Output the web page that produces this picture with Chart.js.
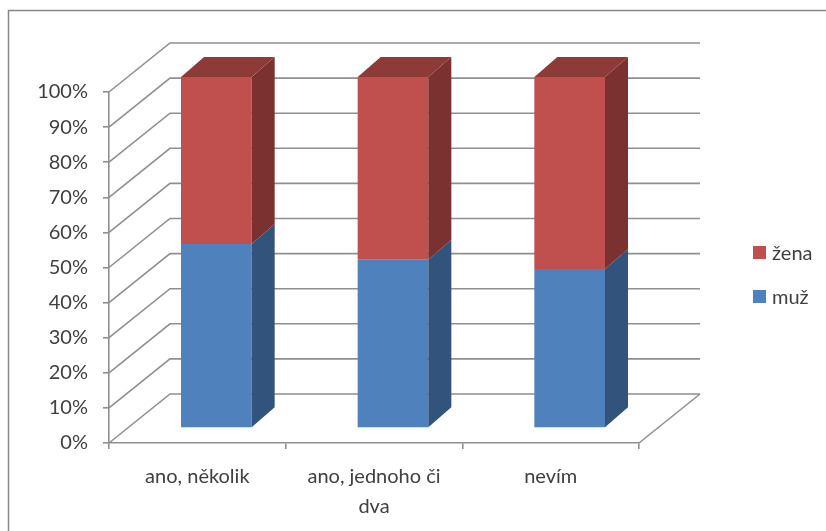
<!DOCTYPE html>
<html>
<head>
<meta charset="utf-8">
<script src="https://cdn.jsdelivr.net/npm/chart.js@4.4.1/dist/chart.umd.min.js"></script>
<style>
  html, body { margin: 0; padding: 0; background: #fff; }
  canvas { display: block; }
</style>
</head>
<body>
<canvas id="myChart" width="826" height="531"></canvas>
<script>
// data (percent of each answer)
const categories = ['ano, několik', ['ano, jednoho či', 'dva'], 'nevím'];
const seriesNames = ['muž', 'žena'];
const muz = [52.4, 47.9, 45.3];
const zena = [47.6, 52.1, 54.7];
const yTicks = [0, 10, 20, 30, 40, 50, 60, 70, 80, 90, 100];

const FONT = 'Lato, "Open Sans", sans-serif';
const GRID = '#8f8f8f';

// 3d look: wall depth and bar offset / depth
const wallDx = 61, wallDy = 49;
const barDx = 19, barDy = 15;
const depthDx = 23, depthDy = 20;

const sideColors = ['#32537b', '#7b3130'];
const topColors = ['#3c6390', '#8e3a38'];

const walls3d = {
  id: 'walls3d',
  beforeDatasetsDraw(chart) {
    const ctx = chart.ctx;
    const a = chart.chartArea;
    const y = chart.scales.y;
    ctx.save();
    ctx.strokeStyle = GRID;
    ctx.lineWidth = 1.6;
    yTicks.forEach(v => {
      const py = y.getPixelForValue(v);
      ctx.beginPath();
      ctx.moveTo(a.left, py);
      ctx.lineTo(a.left + wallDx, py - wallDy);
      ctx.lineTo(a.right + wallDx, py - wallDy);
      ctx.stroke();
    });
    // floor right edge
    ctx.beginPath();
    ctx.moveTo(a.right, a.bottom);
    ctx.lineTo(a.right + wallDx, a.bottom - wallDy);
    ctx.stroke();
    ctx.restore();

    // bars are pushed a bit into the depth
    ctx.save();
    ctx.translate(barDx, -barDy);
  },
  afterDatasetsDraw(chart) {
    const ctx = chart.ctx;
    const n = chart.data.datasets.length;
    chart.data.datasets.forEach((ds, i) => {
      const meta = chart.getDatasetMeta(i);
      meta.data.forEach(bar => {
        const p = bar.getProps(['x', 'y', 'base', 'width'], true);
        const xl = p.x - p.width / 2, xr = p.x + p.width / 2;
        ctx.fillStyle = sideColors[i];
        ctx.beginPath();
        ctx.moveTo(xr, p.y);
        ctx.lineTo(xr + depthDx, p.y - depthDy);
        ctx.lineTo(xr + depthDx, p.base - depthDy);
        ctx.lineTo(xr, p.base);
        ctx.closePath();
        ctx.fill();
        if (i === n - 1) {
          ctx.fillStyle = topColors[i];
          ctx.beginPath();
          ctx.moveTo(xl, p.y);
          ctx.lineTo(xl + depthDx, p.y - depthDy);
          ctx.lineTo(xr + depthDx, p.y - depthDy);
          ctx.lineTo(xr, p.y);
          ctx.closePath();
          ctx.fill();
        }
      });
    });
    ctx.restore();
  },
  afterDraw(chart) {
    const ctx = chart.ctx;
    ctx.save();
    // outer frame
    ctx.strokeStyle = '#878787';
    ctx.lineWidth = 1.5;
    ctx.strokeRect(8.5, 10.5, 900, 600);
    // legend, top series first
    ctx.font = '20px ' + FONT;
    ctx.textBaseline = 'middle';
    const items = chart.data.datasets.slice().reverse();
    items.forEach((ds, k) => {
      const cy = 252.5 + k * 44;
      ctx.fillStyle = ds.backgroundColor;
      ctx.fillRect(753, cy - 6.5, 13, 13);
      ctx.fillStyle = '#404040';
      ctx.fillText(ds.label, 772, cy + 1);
    });
    ctx.restore();
  }
};

const data = {
  labels: categories,
  datasets: [
    { label: seriesNames[0], data: muz, backgroundColor: '#4f81bd' },
    { label: seriesNames[1], data: zena, backgroundColor: '#c0504d' }
  ]
};

const config = {
  type: 'bar',
  data: data,
  options: {
    responsive: false,
    animation: false,
    events: [],
    layout: { padding: { left: 0, top: 92, right: 187, bottom: 0 } },
    datasets: { bar: { categoryPercentage: 1, barPercentage: 0.4, clip: false } },
    plugins: { legend: { display: false }, tooltip: { enabled: false } },
    scales: {
      x: {
        stacked: true,
        afterFit: s => { s.height = 88 },
        grid: { offset: true, drawOnChartArea: false, drawTicks: true, tickLength: 6, color: GRID, lineWidth: 1.6 },
        border: { display: true, color: GRID, width: 1.6 },
        ticks: { color: '#404040', font: { family: FONT, size: 20, lineHeight: 1.5 }, padding: 13, maxRotation: 0, autoSkip: false }
      },
      y: {
        stacked: true,
        min: 0,
        max: 100,
        afterFit: s => { s.width = 109 },
        grid: { drawOnChartArea: false, drawTicks: true, tickLength: 6, color: GRID, lineWidth: 1.6 },
        border: { display: true, color: GRID, width: 1.6 },
        ticks: { stepSize: 10, color: '#404040', font: { family: FONT, size: 20 }, padding: 15, callback: v => v + '%' }
      }
    }
  },
  plugins: [walls3d]
};

const myChart = new Chart(document.getElementById('myChart'), config);
</script>
</body>
</html>
